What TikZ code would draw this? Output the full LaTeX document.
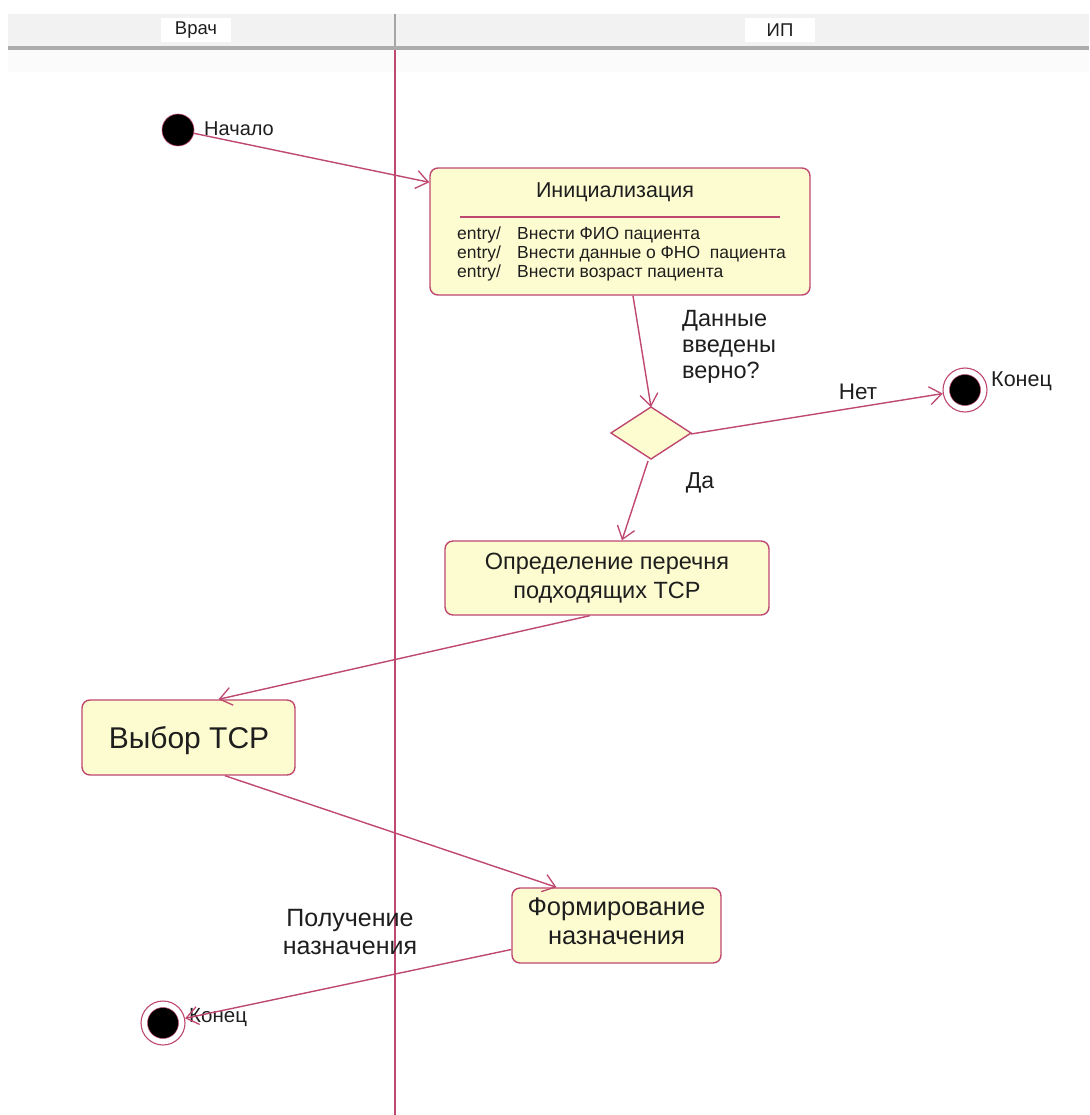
\documentclass[tikz,border=0pt]{standalone}
\usepackage{fontspec}
\setmainfont{Liberation Sans}
\usetikzlibrary{arrows.meta,calc}
\definecolor{crim}{RGB}{190,72,112}
\definecolor{note}{RGB}{253,252,208}
\definecolor{ink}{RGB}{30,30,30}
\begin{document}
\begin{tikzpicture}[x=1pt,y=-1pt,
  font=\fontsize{18}{22}\selectfont, text=ink,
  flow/.style={draw=crim,line width=1.4pt,-{Straight Barb[length=12pt,width=18pt,line width=1.3pt]}},
  action/.style={draw=crim,fill=note,rounded corners=8pt,line width=1.4pt,inner sep=0pt},
  label/.style={inner sep=0pt,anchor=west},
  entrytext/.style={inner sep=0pt,anchor=west,font=\fontsize{17.5}{20}\selectfont},
  lanehead/.style={fill=white,minimum width=70pt,minimum height=24pt,inner sep=0pt,font=\fontsize{18.5}{22}\selectfont}]
\useasboundingbox (0,0) rectangle (1089,1115);
% swimlane header
\fill[gray!10] (8,14) rectangle (1089,46);
\fill[gray!3] (8,50) rectangle (1089,72);
\draw[gray!65,line width=4pt] (8,48) -- (1089,48);
\draw[gray!70,line width=1.5pt] (395,14) -- (395,46);
\node[lanehead] (laneA) at (196,30) {Врач};
\node[lanehead] (laneB) at (780,30) {ИП};
\draw[crim,line width=1.5pt] (395,50) -- (395,1115);

% start
\node[circle,fill=black,draw=crim,line width=0.6pt,minimum size=32pt,inner sep=0pt] (start) at (178,130) {};
\node[label,font=\fontsize{20}{24}\selectfont] (startlbl) at (204,129) {Начало};

% initialisation state
\node[action,minimum width=380pt,minimum height=127pt] (init) at (620,231.5) {};
\node (inittitle) at (615,192) {\fontsize{21.5}{26}\selectfont Инициализация};
\draw[crim,line width=1.1pt] (460,217) -- (780,217);
\node[entrytext] (e1) at (457,235) {entry/};
\node[entrytext] (e2) at (457,254) {entry/};
\node[entrytext] (e3) at (457,273) {entry/};
\node[entrytext] (t1) at (517,235) {Внести ФИО пациента};
\node[entrytext] (t2) at (517,254) {Внести данные о ФНО\ \ пациента};
\node[entrytext] (t3) at (517,273) {Внести возраст пациента};

% decision
\draw[crim,fill=note,line width=1.4pt] (611,433) -- (651,407) -- (691,433) -- (651,459) -- cycle;
\coordinate (dtop) at (651,407);
\coordinate (dright) at (691,434);
\coordinate (dbottom) at (648,461);
\node[label,align=left,font=\fontsize{23.5}{26}\selectfont] (question) at (682,347) {Данные\\введены\\верно?};
\node[font=\fontsize{22.5}{26}\selectfont] (no) at (858,392) {Нет};
\node[font=\fontsize{23}{26}\selectfont] (yes) at (700,483) {Да};

% final states
\node[circle,draw=crim,fill=white,line width=1.1pt,minimum size=44pt,inner sep=0pt] (end1) at (965,390) {};
\node[circle,fill=black,draw=crim,line width=0.5pt,minimum size=31pt,inner sep=0pt] (end1in) at (965,390) {};
\node[label,font=\fontsize{21.5}{24}\selectfont] (end1lbl) at (991,381) {Конец};
\node[circle,draw=crim,fill=white,line width=1.1pt,minimum size=44pt,inner sep=0pt] (end2) at (163,1023) {};
\node[circle,fill=black,draw=crim,line width=0.5pt,minimum size=31pt,inner sep=0pt] (end2in) at (163,1023) {};
\node[label,font=\fontsize{20.5}{24}\selectfont] (end2lbl) at (189,1017) {Конец};

% activities
\node[action,minimum width=324pt,minimum height=74pt,align=center,font=\fontsize{23.5}{29}\selectfont] (opred) at (607,578) {Определение перечня\\подходящих ТСР};
\node[action,minimum width=213pt,minimum height=75pt] (vybor) at (188.5,737.5) {};
\node[font=\fontsize{30}{34}\selectfont] (vybortext) at (189,741) {Выбор ТСР};
\node[action,minimum width=209pt,minimum height=75pt] (form) at (616.5,925.5) {};
\node[align=center,font=\fontsize{25.5}{29}\selectfont] (formtext) at (616.5,921.5) {Формирование\\назначения};
\node[align=center,font=\fontsize{25}{28}\selectfont] (recv) at (350,932) {Получение\\назначения};

% transitions
\draw[flow] (start) -- ($(init.north west)+(0,15)$);
\draw[flow] ($(init.south west)!0.534!(init.south east)$) -- (dtop);
\draw[flow] (dright) -- (end1);
\draw[flow] (dbottom) -- ($(opred.north west)!0.546!(opred.north east)$);
\draw[flow] ($(opred.south west)!0.447!(opred.south east)$) -- ($(vybor.north west)!0.64!(vybor.north east)$);
\draw[flow] ($(vybor.south west)!0.67!(vybor.south east)$) -- ($(form.north west)!0.215!(form.north east)$);
\draw[flow] ($(form.west)+(0,24)$) -- (end2);
\end{tikzpicture}
\end{document}
